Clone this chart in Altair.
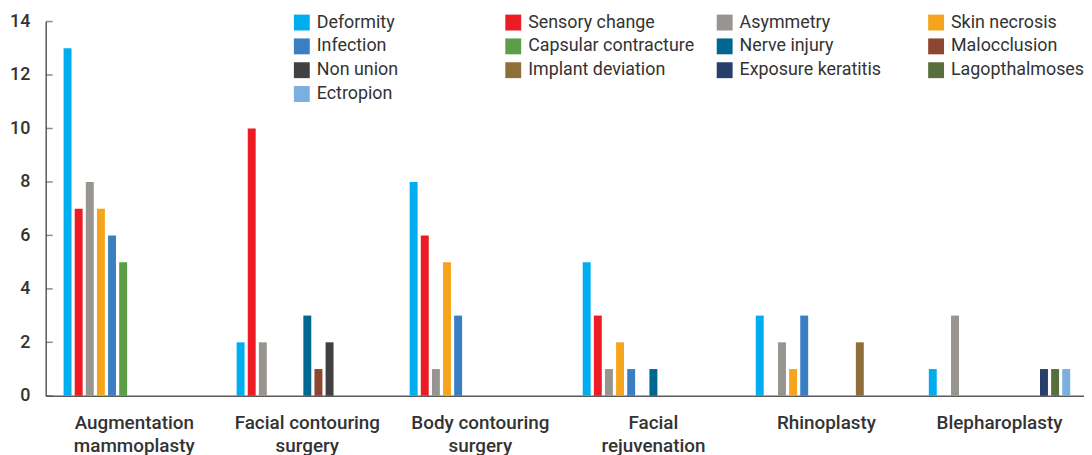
import json
import altair as alt
import pandas as pd

categories = ["Augmentation mammoplasty", "Facial contouring surgery", "Body contouring surgery",
              "Facial rejuvenation", "Rhinoplasty", "Blepharoplasty"]
label_lines = [["Augmentation", "mammoplasty"], ["Facial contouring", "surgery"],
               ["Body contouring", "surgery"], ["Facial", "rejuvenation"],
               ["Rhinoplasty"], ["Blepharoplasty"]]
series = ["Deformity", "Sensory change", "Asymmetry", "Skin necrosis",
          "Infection", "Capsular contracture", "Nerve injury", "Malocclusion",
          "Non union", "Implant deviation", "Exposure keratitis", "Lagopthalmoses",
          "Ectropion"]
colors = ["#00aeef", "#ed1c24", "#98948f", "#f7a41d",
          "#3a7fc4", "#5b9e47", "#006890", "#8c4632",
          "#414042", "#8f6e3a", "#283e6b", "#566f3c",
          "#7aafdf"]

deformity = [13, 2, 8, 5, 3, 1]
sensory_change = [7, 10, 6, 3, 0, 0]
asymmetry = [8, 2, 1, 1, 2, 3]
skin_necrosis = [7, 0, 5, 2, 1, 0]
infection = [6, 0, 3, 1, 3, 0]
capsular_contracture = [5, 0, 0, 0, 0, 0]
nerve_injury = [0, 3, 0, 1, 0, 0]
malocclusion = [0, 1, 0, 0, 0, 0]
non_union = [0, 2, 0, 0, 0, 0]
implant_deviation = [0, 0, 0, 0, 2, 0]
exposure_keratitis = [0, 0, 0, 0, 0, 1]
lagopthalmoses = [0, 0, 0, 0, 0, 1]
ectropion = [0, 0, 0, 0, 0, 1]

y_ticks = [0, 2, 4, 6, 8, 10, 12, 14]

values_by_series = [deformity, sensory_change, asymmetry, skin_necrosis, infection,
                    capsular_contracture, nerve_injury, malocclusion, non_union,
                    implant_deviation, exposure_keratitis, lagopthalmoses, ectropion]

rows = []
for s, vals in zip(series, values_by_series):
    for c, v in zip(categories, vals):
        if v > 0:
            rows.append({"category": c, "series": s, "value": v})
df = pd.DataFrame(rows)
df_ticks = pd.DataFrame({"value": y_ticks})

label_expr = ""
for c, lines in zip(categories, label_lines):
    label_expr += f"datum.value == {json.dumps(c)} ? {json.dumps(lines)} : "
label_expr += "datum.label"

AXIS_COLOR = "#5a5a5a"
TEXT_COLOR = "#333333"

y_axis = alt.Axis(title=None, values=y_ticks, ticks=False, grid=False,
                  domainColor=AXIS_COLOR, domainWidth=1.5,
                  labelFontSize=18, labelFontWeight=500, labelPadding=16,
                  labelColor=TEXT_COLOR)

bars = alt.Chart(df).mark_bar().encode(
    x=alt.X("category:N", sort=categories,
            scale=alt.Scale(domain=categories, paddingInner=0.183, paddingOuter=0.0915,
                            align=0.564),
            axis=alt.Axis(title=None, labelAngle=0, ticks=False,
                          domainColor=AXIS_COLOR, domainWidth=1.5,
                          labelFontSize=19, labelFontWeight=500, labelColor=TEXT_COLOR,
                          labelPadding=18, labelLineHeight=23, labelExpr=label_expr,
                          labelLimit=400)),
    xOffset=alt.XOffset("series:N",
                        scale=alt.Scale(domain=series, paddingInner=0.286,
                                        paddingOuter=0)),
    y=alt.Y("value:Q", scale=alt.Scale(domain=[0, 14]), axis=y_axis),
    color=alt.Color("series:N",
                    scale=alt.Scale(domain=series, range=colors),
                    legend=alt.Legend(title=None, orient="none", legendX=249, legendY=-8,
                                      direction="horizontal",
                                      columns=4, gridAlign="all", symbolType="square",
                                      symbolSize=256, symbolStrokeWidth=0,
                                      labelFontSize=18, labelOffset=6, rowPadding=6,
                                      columnPadding=21, labelLimit=400,
                                      labelColor=TEXT_COLOR, padding=0)),
)

ticks = alt.Chart(df_ticks).mark_tick(orient="horizontal", size=7, thickness=1.5,
                                      color=AXIS_COLOR).encode(
    y=alt.Y("value:Q", scale=alt.Scale(domain=[0, 14]), axis=y_axis),
    x=alt.value(3.5),
)

chart = alt.layer(bars, ticks).properties(
    width=1046, height=377,
    autosize=alt.AutoSizeParams(type="none"),
    padding={"left": 38, "top": 12, "right": 0, "bottom": 58},
).configure(font="Roboto").configure_view(stroke=None)

chart.save("out.html", embed_options={"renderer": "svg", "actions": False})
